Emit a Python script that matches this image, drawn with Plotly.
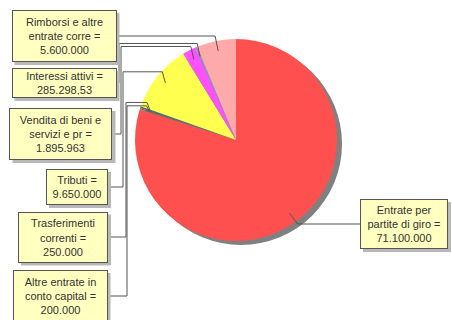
import math
import plotly.graph_objects as go

# slices, clockwise from 12 o'clock
labels = ["Entrate per partite di giro", "Altre entrate in conto capital",
          "Trasferimenti correnti", "Tributi", "Vendita di beni e servizi e pr",
          "Interessi attivi", "Rimborsi e altre entrate corre"]
values = [71100000, 200000, 250000, 9650000, 1895963, 285298.53, 5600000]
value_text = ["71.100.000", "200.000", "250.000", "9.650.000",
              "1.895.963", "285.298,53", "5.600.000"]
box_text = ["Entrate per<br>partite di giro =", "Altre entrate in<br>conto capital =",
            "Trasferimenti<br>correnti =", "Tributi =", "Vendita di beni e<br>servizi e pr =",
            "Interessi attivi =", "Rimborsi e altre<br>entrate corre ="]
colors = ["#FF5050", "#6E6E50", "#507070", "#FFFF50", "#FF50FF", "#9090C8", "#FFAAAA"]

W, H = 452, 320
cx, cy, R = 236, 140, 101


def X(px):
    return px / W


def Y(py):
    return 1 - py / H


fig = go.Figure()

# shadow of the pie
fig.add_trace(go.Pie(values=[1], marker=dict(colors=["#808080"]), textinfo="none",
                     hoverinfo="skip", sort=False,
                     domain=dict(x=[X(cx - R + 5), X(cx + R + 5)], y=[Y(cy + R + 4), Y(cy - R + 4)])))

fig.add_trace(go.Pie(labels=labels, values=values, sort=False, direction="clockwise",
                     marker=dict(colors=colors, line=dict(width=0)), textinfo="none",
                     domain=dict(x=[X(cx - R), X(cx + R)], y=[Y(cy + R), Y(cy - R)])))

# label boxes: centre x, centre y, outer width, outer height (px)
boxes = [(404, 224, 88, 50), (60, 296, 95, 52), (63, 237, 90, 51), (77, 187, 62, 36),
         (61, 134, 103, 52), (64, 83, 105, 30), (64, 36, 105, 52)]
# vertical channel x and approach y-offset for left leader lines
channel = [None, 127, 126, 123, 121, 119, None]
approach = [None, 6, 8, 11, 13, 13, None]

total = sum(values)
cum = 0
shapes = []
annotations = []
for i, v in enumerate(values):
    mid = (cum + v / 2) / total * 2 * math.pi
    cum += v
    ax = cx + 0.9 * R * math.sin(mid)
    ay = cy - 0.9 * R * math.cos(mid)
    bx, by, bw, bh = boxes[i]
    if bx > cx:
        sx = bx - bw / 2
        pts = [(sx, by), (ax + 8, by), (ax, ay)]
    elif channel[i] is None:
        sx = bx + bw / 2
        pts = [(sx, by), (ax - 3, by), (ax, ay)]
    else:
        sx = bx + bw / 2
        ly = ay - approach[i]
        pts = [(sx, by), (channel[i], by), (channel[i], ly), (ax - 3, ly), (ax, ay)]
    path = "M " + " L ".join(f"{X(p[0])},{Y(p[1])}" for p in pts)
    shapes.append(dict(type="path", path=path, xref="paper", yref="paper",
                       line=dict(color="#555555", width=1)))
    # box shadow
    shapes.append(dict(type="rect", xref="paper", yref="paper",
                       x0=X(bx - bw / 2 + 3), x1=X(bx + bw / 2 + 3),
                       y0=Y(by + bh / 2 + 3), y1=Y(by - bh / 2 + 3),
                       fillcolor="#B8B8B8", line=dict(width=0)))
    annotations.append(dict(x=X(bx), y=Y(by), xref="paper", yref="paper",
                            xanchor="center", yanchor="middle",
                            text=box_text[i] + "<br>" + value_text[i], showarrow=False,
                            align="center", width=bw - 6, height=bh - 6, borderpad=2,
                            bgcolor="#FFFFC0", bordercolor="#555555", borderwidth=1,
                            font=dict(family="Arial", size=11, color="#333333")))

fig.update_layout(width=W, height=H, margin=dict(l=0, r=0, t=0, b=0),
                  paper_bgcolor="white", showlegend=False,
                  shapes=shapes, annotations=annotations)

# drop the default page margin so the figure sits at the window corner
fig.write_html("out.html", config={"displayModeBar": False},
               post_script="document.body.style.margin='0';")
